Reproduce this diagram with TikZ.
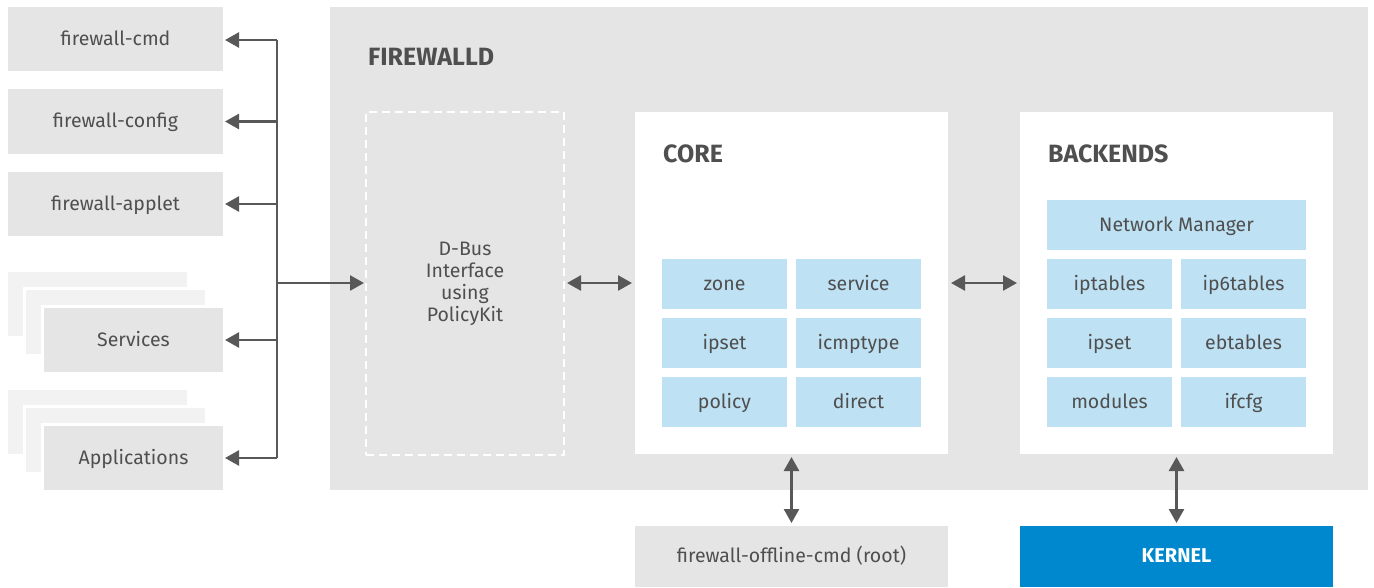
\documentclass[tikz,border=0pt]{standalone}
\usepackage{fontspec}
\setmainfont{Fira Sans}
\usetikzlibrary{arrows.meta}
\definecolor{boxgray}{HTML}{E5E5E5}
\definecolor{backgray}{HTML}{F2F2F2}
\definecolor{cellblue}{HTML}{BEE1F4}
\definecolor{kernelblue}{HTML}{0088CE}
\definecolor{txt}{HTML}{4F4F4F}
\definecolor{arrowgray}{HTML}{585858}
\tikzset{
  base/.style={inner sep=0pt, outer sep=0pt, anchor=north west, text=txt,
    font=\fontsize{19.5}{22}\selectfont},
  onebase/.style={text height=12pt, text depth=0pt},
  graybox/.style={base, onebase, fill=boxgray},
  cell/.style={base, onebase, fill=cellblue, minimum width=125pt, minimum height=50pt},
  heading/.style={inner sep=0pt, anchor=base west, text=txt,
    font=\fontsize{25}{28}\selectfont\bfseries},
  conn/.style={draw=arrowgray, line width=2.6pt},
  arr/.style={conn, -{Triangle[length=14pt,width=15pt]}, shorten >=2pt},
  darr/.style={conn, {Triangle[length=14pt,width=15pt]}-{Triangle[length=14pt,width=15pt]}, shorten >=3pt, shorten <=3pt},
}
\begin{document}
\begin{tikzpicture}[x=1pt, y=-1pt]
\useasboundingbox (0,0) rectangle (1374,587);
% left clients
\node[graybox, minimum width=215pt, minimum height=64pt] (fwcmd) at (8,7) {firewall-cmd};
\node[graybox, minimum width=215pt, minimum height=65pt] (fwconfig) at (8,89) {firewall-config};
\node[graybox, minimum width=215pt, minimum height=64pt] (fwapplet) at (8,172) {firewall-applet};
% services stack
\fill[backgray] (8,272) rectangle (187,336);
\fill[white] (23,287) rectangle (205,354);
\fill[backgray] (26,290) rectangle (205,354);
\fill[white] (41,305) rectangle (223,372);
\node[graybox, minimum width=179pt, minimum height=64pt] (services) at (44,308) {Services};
% applications stack
\fill[backgray] (8,390) rectangle (187,454);
\fill[white] (23,405) rectangle (205,472);
\fill[backgray] (26,408) rectangle (205,472);
\fill[white] (41,423) rectangle (223,490);
\node[graybox, minimum width=179pt, minimum height=64pt] (apps) at (44,426) {Applications};
% firewalld
\node[base, fill=boxgray, minimum width=1038pt, minimum height=483pt] (firewalld) at (330,7) {};
\node[heading] (fwdlabel) at (368,65) {FIREWALLD};
\node[base, minimum width=198pt, minimum height=343pt, draw=white, line width=2pt,
  dash pattern=on 8pt off 5pt, align=center] (dbus) at (366,112)
  {D-Bus\\Interface\\using\\PolicyKit};
% core
\node[base, fill=white, minimum width=313pt, minimum height=342pt] (core) at (635,112) {};
\node[heading] (corelabel) at (663,162) {CORE};
\node[cell] (zone) at (662,259) {zone};
\node[cell] (service) at (796,259) {service};
\node[cell] (ipsetc) at (662,318) {ipset};
\node[cell] (icmptype) at (796,318) {icmptype};
\node[cell] (policy) at (662,377) {policy};
\node[cell] (direct) at (796,377) {direct};
% backends
\node[base, fill=white, minimum width=313pt, minimum height=342pt] (backends) at (1020,112) {};
\node[heading] (belabel) at (1048,162) {BACKENDS};
\node[cell, minimum width=259pt] (nm) at (1047,200) {Network Manager};
\node[cell] (iptables) at (1047,259) {iptables};
\node[cell] (ip6tables) at (1181,259) {ip6tables};
\node[cell] (ipsetb) at (1047,318) {ipset};
\node[cell] (ebtables) at (1181,318) {ebtables};
\node[cell] (modules) at (1047,377) {modules};
\node[cell] (ifcfg) at (1181,377) {ifcfg};
% bottom
\node[graybox, minimum width=313pt, minimum height=61pt] (offline) at (635,526) {firewall-offline-cmd (root)};
\node[base, onebase, fill=kernelblue, text=white, minimum width=313pt, minimum height=61pt,
  font=\fontsize{20}{22}\selectfont\bfseries] (kernel) at (1020,526) {KERNEL};
% connectors
\coordinate (ttop) at (277,40);
\coordinate (tbot) at (277,458);
\coordinate (tmid) at (277,283);
\draw[conn] (ttop) -- (tbot);
\draw[arr] (ttop) -- (fwcmd.east |- ttop);
\draw[arr] (fwconfig.east -| ttop) -- (fwconfig.east);
\draw[arr] (fwapplet.east -| ttop) -- (fwapplet.east);
\draw[arr] (services.east -| ttop) -- (services.east);
\draw[arr] (tbot) -- (apps.east |- tbot);
\draw[arr] (tmid) -- (dbus.west |- tmid);
\draw[darr] (dbus.east |- tmid) -- (core.west |- tmid);
\draw[darr] (core.east |- tmid) -- (backends.west |- tmid);
\draw[darr] (core.south) -- (offline.north);
\draw[darr] (backends.south) -- (kernel.north);
\end{tikzpicture}
\end{document}
